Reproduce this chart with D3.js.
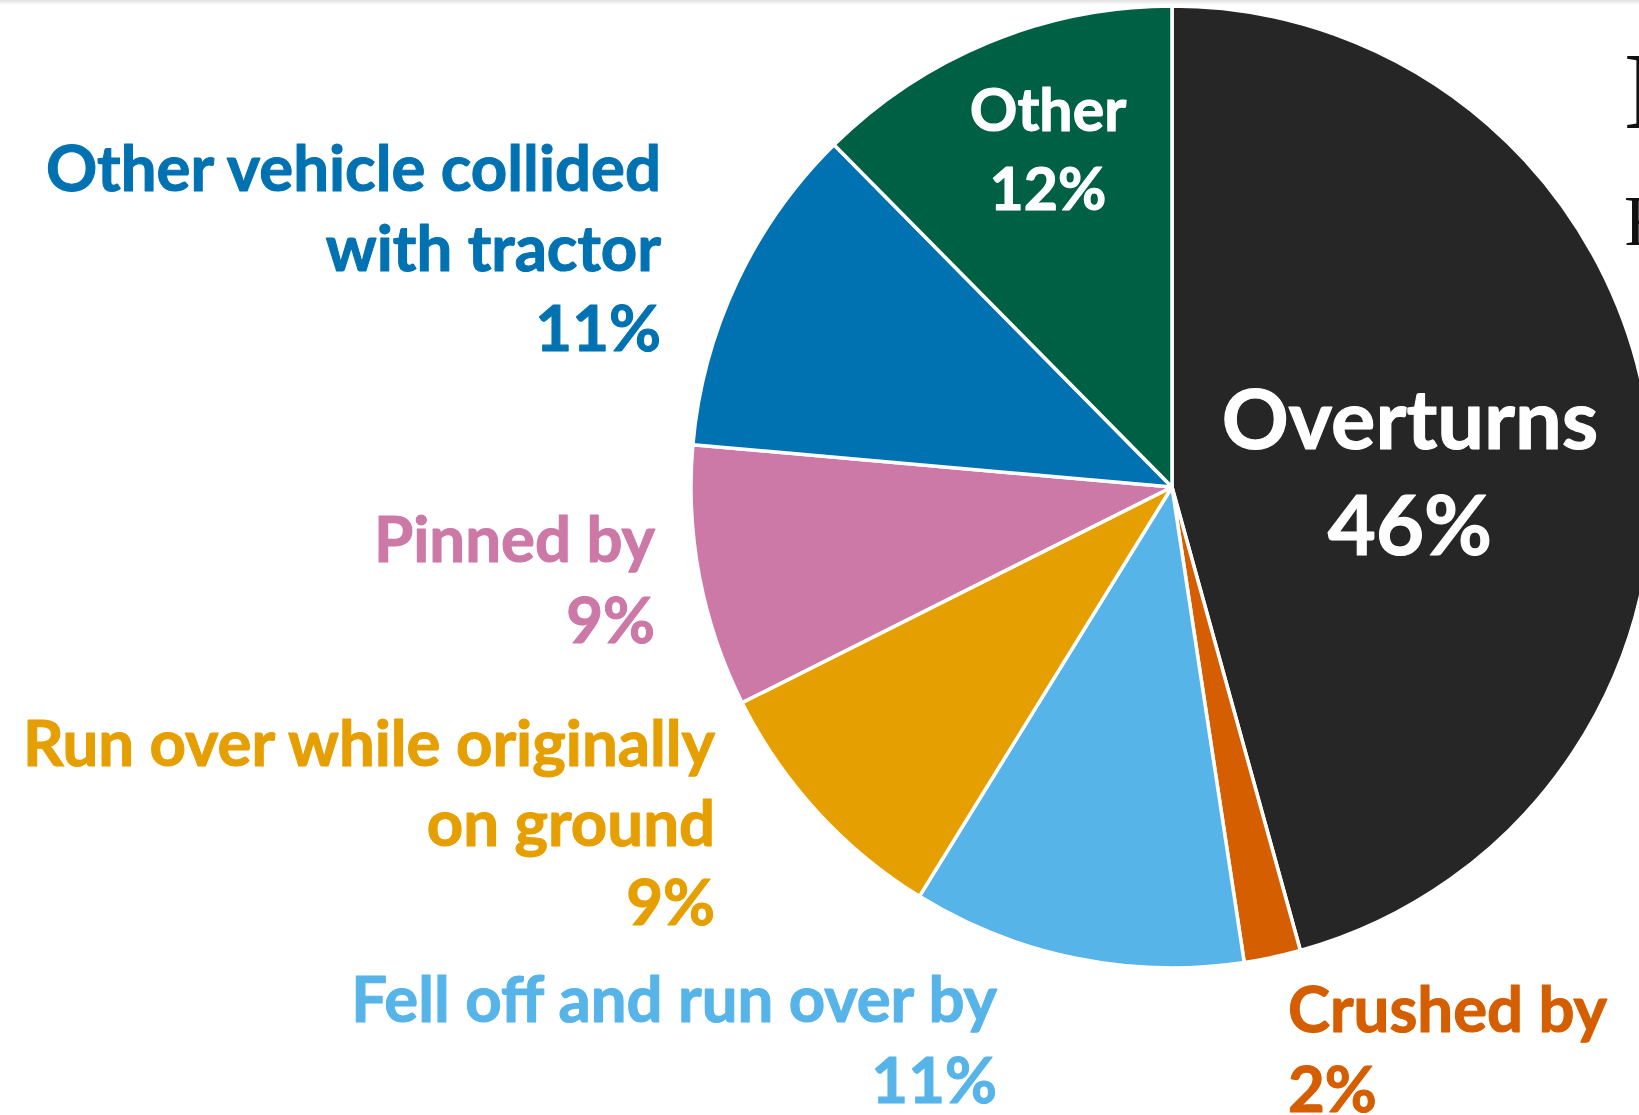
<!DOCTYPE html>
<html>
<head>
<meta charset="utf-8">
<script src="https://cdn.jsdelivr.net/npm/d3@7"></script>
<style>
  html, body { margin: 0; padding: 0; background: #fff; overflow: hidden; }
  svg { display: block; }
  .lbl { font-family: Lato, "Open Sans", sans-serif; font-weight: 700; }
</style>
</head>
<body>
<div id="chart"></div>
<script>
// Size of the page
var width = 1639;
var height = 1115;

// Data (clockwise from 12 o'clock)
var categories = ["Overturns", "Crushed by", "Fell off and run over by",
  "Run over while originally on ground", "Pinned by",
  "Other vehicle collided with tractor", "Other"];
var shares = [45.7, 1.9, 11.2, 8.8, 8.8, 11.2, 12.4];
var pctLabels = ["46%", "2%", "11%", "9%", "9%", "11%", "12%"];
var labelLines = [
  ["Overturns"],
  ["Crushed by"],
  ["Fell off and run over by"],
  ["Run over while originally", "on ground"],
  ["Pinned by"],
  ["Other vehicle collided", "with tractor"],
  ["Other"]
];
var colors = ["#262626", "#D55E00", "#56B4E9", "#E69F00", "#CC79A7", "#0072B2", "#006044"];

// where each label sits (x, first baseline, anchor, line step, font size, colour inside?)
var labelLayout = [
  { x: 1410, y: 449, anchor: "middle", step: 106, size: 83, inside: true },
  { x: 1288, y: 1032, anchor: "start", step: 80, size: 63.5 },
  { x: 997, y: 1022, anchor: "end", step: 81, size: 63.5 },
  { x: 715, y: 766, anchor: "end", step: 79.5, size: 63.5 },
  { x: 655, y: 562, anchor: "end", step: 81, size: 63.5 },
  { x: 661, y: 191, anchor: "end", step: 80, size: 63.5 },
  { x: 1048, y: 131, anchor: "middle", step: 79, size: 59, inside: true }
];

var cx = 1172, cy = 487, radius = 481;

var svg = d3.select("#chart")
  .append("svg")
  .attr("width", width)
  .attr("height", height);

// faint shadow along the top edge
var defs = svg.append("defs");
var grad = defs.append("linearGradient")
  .attr("id", "topShade")
  .attr("x1", 0).attr("y1", 0).attr("x2", 0).attr("y2", 1);
grad.append("stop").attr("offset", "0%").attr("stop-color", "#e2e2e2");
grad.append("stop").attr("offset", "100%").attr("stop-color", "#ffffff");
svg.append("rect")
  .attr("x", 0).attr("y", 0)
  .attr("width", width).attr("height", 5)
  .style("fill", "url(#topShade)");

var pie = d3.pie()
  .sort(null)
  .value(function(d) { return d; });

var arc = d3.arc()
  .innerRadius(0)
  .outerRadius(radius);

var g = svg.append("g")
  .attr("transform", "translate(" + cx + "," + cy + ")");

g.selectAll("path")
  .data(pie(shares))
  .enter()
  .append("path")
  .attr("d", arc)
  .style("fill", function(d, i) { return colors[i]; })
  .style("stroke", "#fff")
  .style("stroke-width", 3.5)
  .style("stroke-linejoin", "round");

// labels (a thin stroke of the same colour makes them a bit heavier)
categories.forEach(function(name, i) {
  var lay = labelLayout[i];
  var lines = labelLines[i].concat([pctLabels[i]]);
  var c = lay.inside ? "#fff" : colors[i];
  var t = svg.append("text")
    .attr("class", "lbl")
    .attr("text-anchor", lay.anchor)
    .style("font-size", lay.size + "px")
    .style("fill", c)
    .style("stroke", c)
    .style("stroke-width", 1.1)
    .style("stroke-linejoin", "round");
  lines.forEach(function(line, k) {
    t.append("tspan")
      .attr("x", lay.x)
      .attr("y", lay.y + k * lay.step)
      .text(line);
  });
});

// title, mostly outside the frame
svg.append("text")
  .attr("x", 1624)
  .attr("y", 128)
  .style("font-family", "'Liberation Serif', 'DejaVu Serif', serif")
  .style("font-size", "110px")
  .style("fill", "#111")
  .text("Deaths");
svg.append("text")
  .attr("x", 1624)
  .attr("y", 245)
  .style("font-family", "'Liberation Serif', 'DejaVu Serif', serif")
  .style("font-size", "71px")
  .style("fill", "#111")
  .text("Farm");
</script>
</body>
</html>
